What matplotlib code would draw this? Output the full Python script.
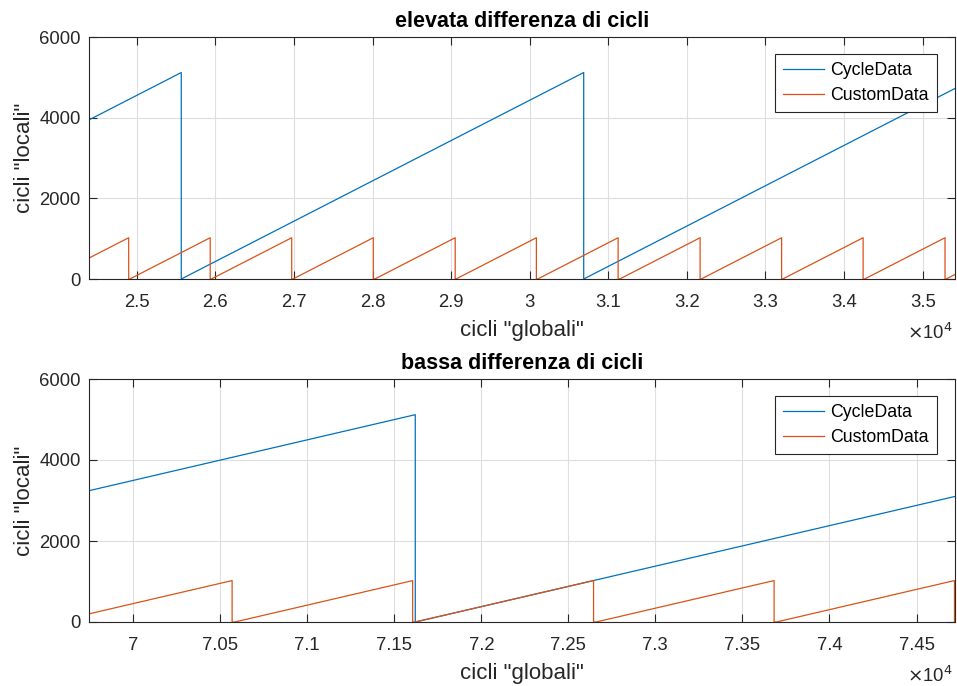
import matplotlib
matplotlib.use("Agg")
import matplotlib.pyplot as plt
from matplotlib.ticker import FuncFormatter

# MATLAB-like look
plt.rcParams['font.family'] = ['Liberation Sans', 'DejaVu Sans']

BLUE = "#0072BD"
ORANGE = "#D95319"
AXCOL = "#262626"

# --- data (vertices of the sawtooth lines) ---
# top panel: "elevata differenza di cicli"
top_cycle_x = [24393, 25567, 25567, 30687, 30687, 35411]
top_cycle_y = [3945, 5119, 0, 5119, 0, 4724]

top_custom_x = [24393, 24898, 24898, 24912, 25935, 25935, 25949, 26972, 26972,
                26987, 28010, 28010, 28029, 29052, 29052, 29062, 30085, 30085,
                30102, 31125, 31125, 31145, 32168, 32168, 32182, 33205, 33205,
                33219, 34242, 34242, 34261, 35284, 35284, 35299, 35411]
top_custom_y = [519, 1023, 0, 0, 1023, 0, 0, 1023, 0,
                0, 1023, 0, 0, 1023, 0, 0, 1023, 0,
                0, 1023, 0, 0, 1023, 0, 0, 1023, 0,
                0, 1023, 0, 0, 1023, 0, 0, 112]

top_xticks = [25000, 26000, 27000, 28000, 29000, 30000, 31000, 32000, 33000, 34000, 35000]

# bottom panel: "bassa differenza di cicli"
bot_cycle_x = [69747, 71621, 71621, 74721]
bot_cycle_y = [3242, 5119, 0, 3100]

bot_custom_x = [69747, 70569, 70569, 70584, 71606, 71606, 71621, 72645, 72645,
                72659, 73682, 73682, 73695, 74718, 74718, 74721]
bot_custom_y = [201, 1023, 0, 0, 1022, 0, 0, 1023, 0,
                0, 1023, 0, 0, 1023, 0, 0]

bot_xticks = [70000, 70500, 71000, 71500, 72000, 72500, 73000, 73500, 74000, 74500]

yticks = [0, 2000, 4000, 6000]

panels = [
    ("elevata differenza di cicli", top_cycle_x, top_cycle_y, top_custom_x, top_custom_y,
     top_xticks, (24393, 35411)),
    ("bassa differenza di cicli", bot_cycle_x, bot_cycle_y, bot_custom_x, bot_custom_y,
     bot_xticks, (69747, 74721)),
]

W, H = 957, 686
fig = plt.figure(figsize=(W / 100, H / 100), dpi=100)

# axes boxes in pixels: left, top, right, bottom
boxes = [(89, 37, 955, 279), (89, 379, 955, 622)]

for (title, cx, cy, ux, uy, xt, xl), (l, t, r, b) in zip(panels, boxes):
    ax = fig.add_axes([l / W, 1 - b / H, (r - l) / W, (b - t) / H])
    ax.plot(cx, cy, color=BLUE, lw=0.9, label="CycleData")
    ax.plot(ux, uy, color=ORANGE, lw=0.9, label="CustomData")
    ax.set_xlim(*xl)
    ax.set_ylim(0, 6000)
    ax.set_xticks(xt)
    ax.set_yticks(yticks)
    ax.xaxis.set_major_formatter(FuncFormatter(lambda v, p: "%g" % (v / 1e4)))
    ax.grid(True, color="#dedede", lw=0.8)
    ax.set_axisbelow(True)
    ax.tick_params(direction="in", length=6, width=0.8, colors=AXCOL,
                   labelsize=13.3, top=True, right=True, pad=6)
    ax.tick_params(axis="x", pad=11)
    for s in ax.spines.values():
        s.set_color(AXCOL)
        s.set_linewidth(0.8)
    ax.set_title(title, fontsize=15.5, fontweight="bold", color="black", pad=7)
    ax.set_xlabel('cicli "globali"', fontsize=16, color=AXCOL, labelpad=6)
    ax.set_ylabel('cicli "locali"', fontsize=16, color=AXCOL, labelpad=3)
    ax.text(0.997, -0.222, r"$\times$10$^{4}$", transform=ax.transAxes,
            ha="right", va="center", fontsize=13.3, color=AXCOL)
    leg = ax.legend(loc="upper right", bbox_to_anchor=(0.979, 0.930), borderaxespad=0,
                    fontsize=12.8, fancybox=False, framealpha=1, edgecolor=AXCOL,
                    handlelength=2.3, handletextpad=0.35, borderpad=0.45,
                    labelspacing=0.45)
    leg.get_frame().set_linewidth(0.8)

fig.savefig("out.png", dpi=100)
